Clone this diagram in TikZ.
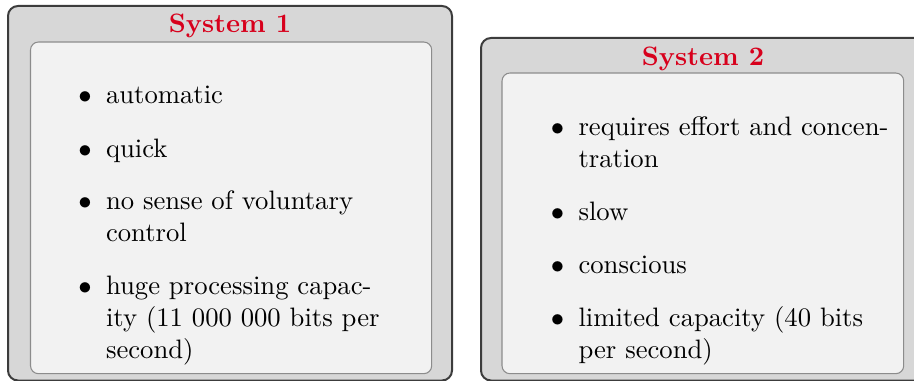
\documentclass[tikz,border=0pt]{standalone}
\usepackage{xcolor}
\definecolor{titlered}{RGB}{215,0,28}
\definecolor{outerfill}{RGB}{215,215,215}
\definecolor{innerfill}{RGB}{242,242,242}
\definecolor{outerline}{RGB}{60,60,60}
\definecolor{innerline}{RGB}{140,140,140}
\tikzset{
  outerbox/.style={draw=outerline, fill=outerfill, line width=0.75pt, rounded corners=3.75pt},
  innerbox/.style={draw=innerline, fill=innerfill, line width=0.4pt, rounded corners=3pt},
  boxtitle/.style={font=\bfseries, text=titlered, inner sep=0pt, anchor=base},
  bulletmark/.style={inner sep=0pt, anchor=base east},
  itemtext/.style={inner sep=0pt, anchor=base west},
}
\newcommand{\itemlines}[1]{\begin{tabular}[t]{@{}l@{}}#1\end{tabular}}
\begin{document}
\begin{tikzpicture}[x=0.375pt, y=-0.375pt]
\useasboundingbox (0,0) rectangle (914,381);
\clip (0,0) rectangle (914,381);
% left box
\draw[outerbox] (8,6) rectangle (452,380.5);
\draw[innerbox] (30.5,42) rectangle (431.7,373.7);
\node[boxtitle] (t1) at (230,33) {System 1};
\node[bulletmark] (b11) at (92.2,104) {$\bullet$};
\node[itemtext] (i11) at (105.5,104) {automatic};
\node[bulletmark] (b12) at (92.2,157.3) {$\bullet$};
\node[itemtext] (i12) at (105.5,157.3) {quick};
\node[bulletmark] (b13) at (92.2,209.5) {$\bullet$};
\node[itemtext] (i13) at (105.5,209.5) {\itemlines{no sense of voluntary\\control}};
\node[bulletmark] (b14) at (92.2,294.8) {$\bullet$};
\node[itemtext] (i14) at (105.5,294.8) {\itemlines{huge processing capac-\\ity (11 000 000 bits per\\second)}};
% right box
\draw[outerbox] (481,38) rectangle (925,380.5);
\draw[innerbox] (502,73) rectangle (903.7,373.7);
\node[boxtitle] (t2) at (703,66) {System 2};
\node[bulletmark] (b21) at (564.7,136) {$\bullet$};
\node[itemtext] (i21) at (578,136) {\itemlines{requires effort and concen-\\tration}};
\node[bulletmark] (b22) at (564.7,220.7) {$\bullet$};
\node[itemtext] (i22) at (578,220.7) {slow};
\node[bulletmark] (b23) at (564.7,273.3) {$\bullet$};
\node[itemtext] (i23) at (578,273.3) {conscious};
\node[bulletmark] (b24) at (564.7,326) {$\bullet$};
\node[itemtext] (i24) at (578,326) {\itemlines{limited capacity (40 bits\\per second)}};
\end{tikzpicture}
\end{document}
